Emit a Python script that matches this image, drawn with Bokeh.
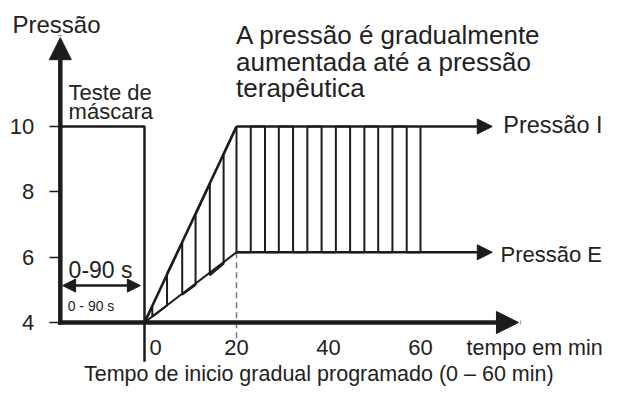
from bokeh.plotting import figure
from bokeh.models import (Range1d, Arrow, NormalHead, LinearAxis, FixedTicker,
                          ColumnDataSource, Label)
from bokeh.core.properties import value
from bokeh.embed import file_html
from bokeh.resources import INLINE

# ---------------- data ----------------
y_ticks = [4, 6, 8, 10]
x_ticks = [0, 20, 40, 60]
x_tick_labels = ["0", "20", "40", "60"]

base_pressure = 4.0          # start pressure
pressure_i = 10.0            # therapeutic inspiratory pressure
pressure_e = 6.15            # therapeutic expiratory pressure
ramp_start_min = 0.0
ramp_end_min = 20.0
mask_test_start = -18.3      # schematic start of the mask test (left axis)
mask_test_end = 0.0
mask_test_pressure = 10.0

# breathing cycle edges (min) and the pressures they swing between
pulse_times = [1.7, 4.9, 8.2, 11.1, 14.2, 17.2, 20.0, 23.1, 26.2, 29.2,
               32.3, 35.4, 38.5, 41.6, 44.7, 47.8, 50.8, 53.9, 57.0, 60.0]
pulse_high = [4.5, 5.5, 6.45, 7.3, 8.25, 9.15, 10.0, 10.0, 10.0, 10.0,
              10.0, 10.0, 10.0, 10.0, 10.0, 10.0, 10.0, 10.0, 10.0, 10.0]
pulse_low = [4.18, 4.52, 4.85, 5.15, 5.45, 5.8, 6.15, 6.15, 6.15, 6.15,
             6.15, 6.15, 6.15, 6.15, 6.15, 6.15, 6.15, 6.15, 6.15, 6.15]

# ---------------- layout / style ----------------
INK = "#1c1c1c"
TXT = "#222222"
FONT = "Liberation Sans"
x_lo, x_hi = -31.304, 100.217
y_lo, y_hi = 2.041, 13.857
y_axis_top = 12.72
x_axis_tip = 81.3
pressure_arrow_tip = 75.6
marker_bottom = 2.8
dash_bottom = 3.45
span_level = 5.13
span_left, span_right = -17.8, -0.9

p = figure(width=605, height=386, x_range=Range1d(x_lo, x_hi),
           y_range=Range1d(y_lo, y_hi), output_backend="svg",
           toolbar_location=None, x_axis_location=None, y_axis_location=None,
           min_border=0, outline_line_color=None,
           background_fill_color="white", border_fill_color="white")
p.grid.visible = False

# mask test block: top edge and the 0-minute marker line
p.line(x=[mask_test_start, mask_test_end, mask_test_end],
       y=[mask_test_pressure, mask_test_pressure, marker_bottom],
       line_color=INK, line_width=2.5)

# dashed marker at end of ramp
p.line(x=[ramp_end_min, ramp_end_min], y=[pressure_e, dash_bottom],
       line_color="#777777", line_width=1.5, line_dash="6 4")

# ramp envelopes
p.line(x=[ramp_start_min, ramp_end_min], y=[base_pressure, pressure_i],
       line_color=INK, line_width=2.6)
p.line(x=[ramp_start_min, ramp_end_min], y=[base_pressure, pressure_e],
       line_color=INK, line_width=2.0)

# breathing square wave
wx, wy = [ramp_start_min], [base_pressure]
for k, (t, hi, lo) in enumerate(zip(pulse_times, pulse_high, pulse_low)):
    if k % 2 == 0:
        wx += [t, t]; wy += [hi, lo]
    else:
        wx += [t, t]; wy += [lo, hi]
p.line(x=wx, y=wy, line_color=INK, line_width=2.0)

# pressure I / E arrows
for lvl in (pressure_i, pressure_e):
    p.add_layout(Arrow(x_start=ramp_end_min, y_start=lvl,
                       x_end=pressure_arrow_tip, y_end=lvl,
                       line_color=INK, line_width=2.5,
                       end=NormalHead(size=15, fill_color=INK, line_color=INK, line_width=1)))

# 0-90 s double arrow
p.add_layout(Arrow(x_start=span_left, y_start=span_level, x_end=span_right, y_end=span_level,
                   line_color=INK, line_width=2.5,
                   start=NormalHead(size=13, fill_color=INK, line_color=INK, line_width=1),
                   end=NormalHead(size=13, fill_color=INK, line_color=INK, line_width=1)))

# axes lines with arrow heads
p.add_layout(Arrow(x_start=mask_test_start, y_start=base_pressure,
                   x_end=x_axis_tip, y_end=base_pressure,
                   line_color=INK, line_width=4.5, line_cap="square",
                   end=NormalHead(size=22, fill_color=INK, line_color=INK, line_width=1)))
p.add_layout(Arrow(x_start=mask_test_start, y_start=base_pressure,
                   x_end=mask_test_start, y_end=y_axis_top,
                   line_color=INK, line_width=4.5, line_cap="square",
                   end=NormalHead(size=22, fill_color=INK, line_color=INK, line_width=1)))

# y axis ticks + labels
yaxis = LinearAxis(fixed_location=mask_test_start, ticker=FixedTicker(ticks=y_ticks),
                   axis_line_color=None, major_tick_out=11, major_tick_in=0,
                   major_tick_line_width=1.5, major_tick_line_color=INK,
                   minor_tick_line_color=None,
                   major_label_text_font=FONT, major_label_text_font_size="22px",
                   major_label_text_color=TXT, major_label_standoff=15,
                   major_label_text_align="center")
p.add_layout(yaxis, "left")

# x tick labels
src = ColumnDataSource(dict(x=x_ticks, y=[3.22] * len(x_ticks), text=x_tick_labels,
                            dx=[11, 0, 0, 0]))
p.text(x="x", y="y", text="text", x_offset="dx", source=src,
       text_font=value(FONT), text_font_size="22px", text_color=TXT,
       text_align="center", text_baseline="alphabetic")


def lab(x, y, t, size, align="left"):
    p.add_layout(Label(x=x, y=y, text=t, text_font=FONT, text_font_size=size,
                       text_color=TXT, text_align=align, text_baseline="alphabetic"))


lab(-28.7, 13.12, "Pressão", "24px")
lab(19.9, 12.80, "A pressão é gradualmente", "26px")
lab(19.9, 11.98, "aumentada até a pressão", "26px")
lab(19.9, 11.17, "terapêutica", "26px")
lab(-16.5, 11.05, "Teste de", "22px")
lab(-16.5, 10.47, "máscara", "22px")
lab(78.0, 10.035, "Pressão I", "23.5px")
lab(77.4, 6.08, "Pressão E", "22px")
lab(70.0, 3.21, "tempo em min", "21.5px")
lab(37.9, 2.43, "Tempo de inicio gradual programado (0 – 60 min)", "21.5px", "center")
lab(-16.5, 5.62, "0-90 s", "23px")
lab(-16.7, 4.52, "0 - 90 s", "14px")

open("out.html", "w").write(file_html(p, INLINE))
